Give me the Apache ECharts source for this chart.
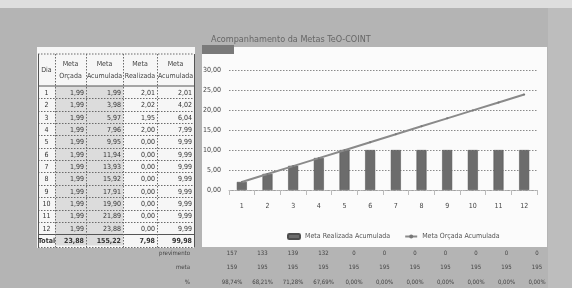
<!DOCTYPE html>
<html><head><meta charset="utf-8">
<script src="https://cdn.jsdelivr.net/npm/echarts@6/dist/echarts.min.js"></script>
<style>html,body{margin:0;padding:0;background:#b4b4b4}#c{width:572px;height:288px}</style>
</head><body><div id="c"></div>
<script>
const chartTitle = 'Acompanhamento da Metas TeO-COINT';
const days = ['1','2','3','4','5','6','7','8','9','10','11','12'];
const metaOrcada = [1.99,1.99,1.99,1.99,1.99,1.99,1.99,1.99,1.99,1.99,1.99,1.99];
const metaOrcadaAcum = [1.99,3.98,5.97,7.96,9.95,11.94,13.93,15.92,17.91,19.90,21.89,23.88];
const metaRealizada = [2.01,2.02,1.95,2.00,0,0,0,0,0,0,0,0];
const metaRealizadaAcum = [2.01,4.02,6.04,7.99,9.99,9.99,9.99,9.99,9.99,9.99,9.99,9.99];
const totalRow = ['Total', 23.88, 155.22, 7.98, 99.98];
const headers = ['Dia', 'Meta\nOrçada', 'Meta\nAcumulada', 'Meta\nRealizada', 'Meta\nAcumulada'];
const seriesNames = ['Meta Realizada Acumulada', 'Meta Orçada Acumulada'];
const bottomLabels = ['previmento', 'meta', '%'];
const previmentoRow = ['157','133','139','132','0','0','0','0','0','0','0'];
const metaRow = ['159','195','195','195','195','195','195','195','195','195','195'];
const pctRow = ['98,74%','68,21%','71,28%','67,69%','0,00%','0,00%','0,00%','0,00%','0,00%','0,00%','0,00%'];

const fmt = v => v.toFixed(2).replace('.', ',');
const FONT = "'Liberation Sans Narrow','DejaVu Sans Condensed',sans-serif";

const colX = [38, 55, 86, 123, 157, 194];
const headTop = 54, headBot = 86, rowH = 12.35, firstRowTop = 87;
const g = [];
// photo-like light top edge
g.push({type:'rect', z:-20, shape:{x:0, y:0, width:572, height:8}, style:{fill:'#dedede'}});
g.push({type:'rect', z:-20, shape:{x:548, y:8, width:24, height:280}, style:{fill:'#bdbdbd'}});
// table area
g.push({type:'rect', shape:{x:37, y:47, width:158, height:201}, style:{fill:'#f6f6f6'}});
g.push({type:'rect', shape:{x:colX[1], y:headBot, width:colX[3]-colX[1], height:13*rowH-1}, style:{fill:'#dcdcdc'}});
const lineStyle = {stroke:'#6a6a6a', lineWidth:1, lineDash:[1.5,1.5]};
g.push({type:'line', shape:{x1:colX[0], y1:headTop, x2:colX[5], y2:headTop}, style:lineStyle});
g.push({type:'line', shape:{x1:colX[0], y1:headBot, x2:colX[5], y2:headBot}, style:{stroke:'#555', lineWidth:1}});
for (let i = 1; i <= 13; i++) {
  const y = Math.round(firstRowTop + i * rowH) - 0.5;
  g.push({type:'line', shape:{x1:colX[0], y1:y, x2:colX[5], y2:y}, style: i===12 ? {stroke:'#555', lineWidth:1} : lineStyle});
}
colX.forEach((x, i) => {
  g.push({type:'line', shape:{x1:x+0.5, y1:headTop, x2:x+0.5, y2:firstRowTop+13*rowH}, style: (i===0||i===5)?{stroke:'#555',lineWidth:1}:lineStyle});
});
headers.forEach((h, i) => {
  g.push({type:'text', style:{text:h, x:(colX[i]+colX[i+1])/2, y:(headTop+headBot)/2, align:'center', verticalAlign:'middle', font:'7px '+FONT, fill:'#444', lineHeight:12}});
});
const rows = days.map((d, i) => [d, fmt(metaOrcada[i]), fmt(metaOrcadaAcum[i]), fmt(metaRealizada[i]), fmt(metaRealizadaAcum[i])]);
rows.push([totalRow[0], fmt(totalRow[1]), fmt(totalRow[2]), fmt(totalRow[3]), fmt(totalRow[4])]);
rows.forEach((r, ri) => {
  const cy = firstRowTop + ri * rowH + rowH / 2;
  r.forEach((t, ci) => {
    const isTotal = ri === 12;
    g.push({type:'text', style:{text:t, x: ci===0 ? (colX[0]+colX[1])/2 : colX[ci+1]-2, y:cy, align: ci===0?'center':'right', verticalAlign:'middle', font:(isTotal?'bold ':'')+'7px '+FONT, fill:'#333'}});
  });
});
// chart panel and marker
g.push({type:'rect', z:-10, shape:{x:202, y:47, width:345, height:200}, style:{fill:'#fbfbfb'}});
g.push({type:'rect', shape:{x:202, y:45, width:32, height:9}, style:{fill:'#7a7a7a'}});
// bottom rows
const bottomRows = [previmentoRow, metaRow, pctRow];
bottomRows.forEach((row, ri) => {
  const y = 253 + ri * 14.5;
  g.push({type:'text', style:{text:bottomLabels[ri], x:190, y:y, align:'right', verticalAlign:'middle', font:'6px '+FONT, fill:'#444'}});
  row.forEach((t, ci) => {
    g.push({type:'text', style:{text:t, x:232 + ci*30.5, y:y, align:'center', verticalAlign:'middle', font:'6px '+FONT, fill:'#444'}});
  });
});

const chart = echarts.init(document.getElementById('c'), null, {renderer:'canvas'});
chart.setOption({
  backgroundColor: '#b4b4b4',
  animation: false,
  textStyle: {fontFamily: FONT},
  title: {text: chartTitle, left: 206, top: 30, textStyle:{fontSize:9, fontWeight:'normal', color:'#666', fontFamily: FONT}},
  graphic: g,
  grid: {left: 229, right: 35, top: 70, bottom: 98},
  legend: {
    data: seriesNames, left: 282, top: 228, itemWidth: 12, itemHeight: 5, itemGap: 14,
    textStyle: {fontSize: 7, color: '#555', fontFamily: FONT}
  },
  xAxis: {
    type: 'category', data: days,
    axisLine: {lineStyle: {color: '#aaa', type: 'dotted'}},
    axisTick: {show: true, lineStyle:{color:'#bbb'}},
    axisLabel: {fontSize: 7, color: '#444', margin: 13}
  },
  yAxis: {
    type: 'value', min: 0, max: 30, interval: 5,
    axisLine: {show: false}, axisTick: {show: false},
    axisLabel: {fontSize: 7, color: '#444', formatter: v => fmt(v), margin: 8},
    splitLine: {lineStyle: {color: '#8a8a8a', type: [1.5, 1.5]}}
  },
  series: [
    {name: seriesNames[0], type: 'bar', data: metaRealizadaAcum, barWidth: 10,
     itemStyle: {color: '#6c6c6c', borderColor: '#4e4e4e', borderWidth: 0.5}},
    {name: seriesNames[1], type: 'line', data: metaOrcadaAcum, symbol: 'circle', symbolSize: 2,
     lineStyle: {color: '#8a8a8a', width: 2}, itemStyle: {color: '#777'}}
  ]
});
</script></body></html>
